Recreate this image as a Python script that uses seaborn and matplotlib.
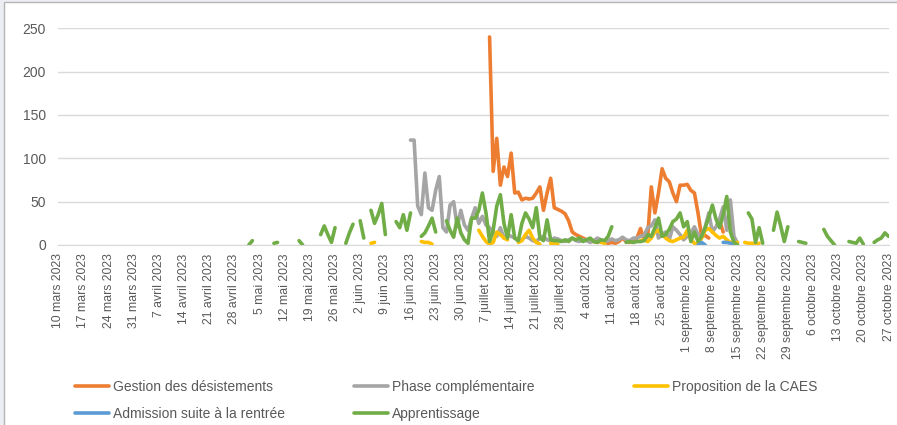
import pandas as pd
import seaborn as sns
import matplotlib.pyplot as plt
from matplotlib.patches import Rectangle

# Daily counts, None = no value that day
gestion_start = "2023-07-08"
gestion = [240, 85, 123, 69, 90, 79, 106, 60, 61, 52, 54, 53, 54, 60, 67, 40, 60, 77,
           43, 41, 39, 36, 28, 15, 12, 10, 8, 6, 5, 4, 3, 5, 3, 2, 3, 2, 4, 8, 4, 3,
           5, 8, 19, 6, 10, 67, 37, 60, 88, 77, 73, 60, 50, 69, 69, 70, 63, 60, 37,
           10, 11, 8, None, None, 28, 15]

phase_start = "2023-06-16"
phase = [121, 121, 45, 35, 83, 43, 40, 63, 79, 20, 15, 46, 50, 21, 40, 23, 17, 31,
         43, 25, 33, 23, 20, 14, 10, 20, 8, 12, 10, 8, 5, 6, 10, 8, 5, 4, 8, 10, 6,
         5, 8, 7, 5, 4, 6, 8, 5, 4, 6, 5, 3, 5, 8, 6, 4, 5, 7, 5, 6, 9, 6, 5, 8, 8,
         10, 11, 20, 22, 29, 8, 12, 15, 6, 21, 17, 12, 6, 10, 14, 21, 12, 10, 21,
         37, 15, 21, 30, 44, 17, 52, 10, 2]

caes_start = "2023-06-05"
caes = ([2, 3] + [None] * 12 + [4, 3, 3, 1] + [None] * 12
        + [17, 10, 4, 1, 3, 15, 12, 8, 6] + [None] * 2
        + [3, 5, 12, 17, 8, 3, 1] + [None] * 2 + [2, 2, 1] + [None] * 11
        + [3, 2] + [None] * 9
        + [5, 6, 4, 8, 15, 17, 12, 8, 5, 4, 6, 8, 9, 17, 6, 2, 1, 8, 17, 19, 15,
           11, 8, 10, 6, 3, 2, 3] + [None] + [3, 2, 2, 1, 2])

admission_start = "2023-09-04"
admission = [0, 3, 0, None, None, None, None, 3, 3, 2, 1]

apprentissage_start = "2023-05-02"
apprentissage = ([0, 5] + [None] * 5 + [2, 3] + [None] * 5 + [5, 0] + [None] * 4
                 + [12, 22, 12, 3, 20] + [None] * 2 + [2, 14, 24, None, 28, 8, None]
                 + [40, 25, 35, 48, 12] + [None] * 2 + [27, 20, 35, 17, 37]
                 + [None] * 2 + [10, 14, 22, 31, 15] + [None] * 2
                 + [28, 17, 9, 31, 14, 6, 2, 31, 31, 40, 60, 37, 4, 17, 45, 58, 25,
                    8, 35, 8, 5, 25, 37, 30, 20, 43, 8, 5, 29, 6, 5, 5, 4, 6, 4, 8,
                    6, 8, 4, 6, 8, 4, 3, 6, 5, 10, 21] + [None] * 3
                 + [3, 4, 3, 4, 4, 5, 12, 10, 20, 31, 10, 12, 18, 27, 30, 37, 21,
                    27, 4, 15, 4, 10, 20, 32, 46, 30, 20, 35, 56, 15, 3, 0]
                 + [None] * 2 + [37, 30, 3, 20, 2] + [None] * 2 + [17, 38, 22, 4, 21]
                 + [None] * 2 + [4, 3, 2] + [None] * 4 + [18, 10, 5, 0] + [None] * 3
                 + [4, 3, 2, 8, 1] + [None] * 2 + [3, 6, 8, 14, 10])

series_names = ["Gestion des désistements", "Phase complémentaire", "Proposition de la CAES",
                "Admission suite à la rentrée", "Apprentissage"]
series_colors = ["#ED7D31", "#A5A5A5", "#FFC000", "#5B9BD5", "#70AD47"]
mois = ["janvier", "février", "mars", "avril", "mai", "juin", "juillet", "août",
        "septembre", "octobre", "novembre", "décembre"]


def to_frame(name, first_day, values):
    df = pd.DataFrame({"date": pd.date_range(first_day, periods=len(values), freq="D"),
                       "value": pd.to_numeric(pd.Series(values, dtype="object"))})
    df["serie"] = name
    # a new segment starts after every missing day, so the line breaks there
    df["seg"] = df["value"].isna().cumsum()
    return df.dropna()


data = pd.concat([
    to_frame(series_names[0], gestion_start, gestion),
    to_frame(series_names[1], phase_start, phase),
    to_frame(series_names[2], caes_start, caes),
    to_frame(series_names[3], admission_start, admission),
    to_frame(series_names[4], apprentissage_start, apprentissage),
], ignore_index=True)

sns.set_style("white")
plt.rcParams["font.family"] = ["Liberation Sans", "DejaVu Sans"]
plt.rcParams["font.size"] = 10

fig = plt.figure(figsize=(8.97, 4.25), dpi=100)
fig.patch.set_facecolor("#eceef4")
fig.patches.append(Rectangle((4 / 897, -0.05), 1.0, 1.05 - 2 / 425, transform=fig.transFigure,
                             facecolor="white", edgecolor="#b4b4b4", lw=1, zorder=-1))
ax = fig.add_axes([58.3 / 897, 1 - 245 / 425, (888.5 - 58.3) / 897, (245 - 28.3) / 425])
ax.set_facecolor("none")

sns.lineplot(data=data, x="date", y="value", hue="serie", units="seg", estimator=None,
             hue_order=series_names, palette=series_colors, lw=2.6, ax=ax)

ticks = pd.date_range("2023-03-10", "2023-10-27", freq="7D")
ax.set_xticks(ticks)
ax.set_xticklabels([f"{t.day} {mois[t.month - 1]} {t.year}" for t in ticks],
                   rotation=90, ha="center", va="top", fontsize=8.8)
ax.set_xlim(ticks[0], ticks[-1])
ax.set_ylim(0, 250)
ax.set_yticks(range(0, 251, 50))
ax.grid(axis="y", color="#d9d9d9", lw=1)
ax.set_axisbelow(True)
ax.tick_params(axis="x", length=4, width=1, color="#d9d9d9", pad=2, labelcolor="#595959")
ax.tick_params(axis="y", length=0, pad=9, labelcolor="#595959", labelsize=10)
for side in ["left", "right", "top"]:
    ax.spines[side].set_visible(False)
ax.spines["bottom"].set_color("#d9d9d9")
ax.set_xlabel("")
ax.set_ylabel("")

handles, labels = ax.get_legend_handles_labels()
ax.get_legend().remove()
by_label = dict(zip(labels, handles))
for h in by_label.values():
    h.set_linewidth(2.6)

columns = [(75, [series_names[0], series_names[3]]),
           (354, [series_names[1], series_names[4]]),
           (634, [series_names[2]])]
for x, names in columns:
    fig.legend([by_label[n] for n in names], names, loc="upper left",
               bbox_to_anchor=(x / 897, 1 - 380 / 425), bbox_transform=fig.transFigure,
               frameon=False, borderpad=0, borderaxespad=0, handlelength=2.45,
               handletextpad=0.25, labelspacing=0.95, fontsize=10, labelcolor="#595959")

fig.savefig("out.png", dpi=100, facecolor=fig.get_facecolor())
